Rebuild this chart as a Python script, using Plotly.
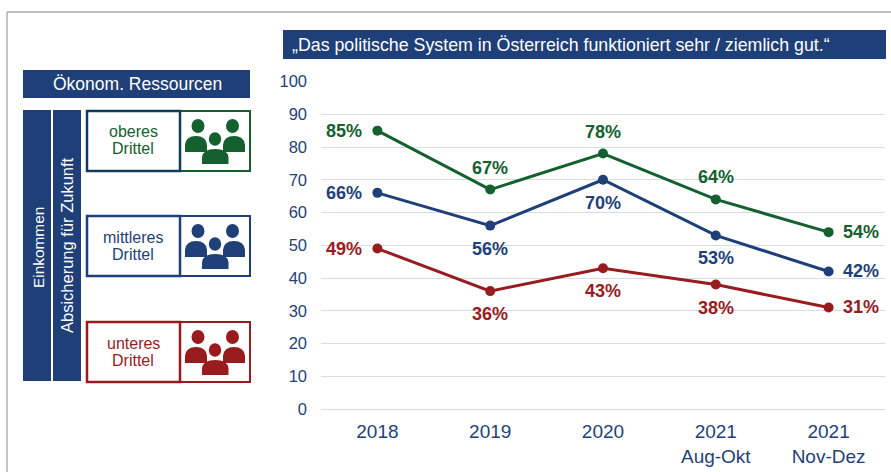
import plotly.graph_objects as go

W, H = 891, 472
FONT = "Liberation Sans"
NAVY = "#1f3f78"
GREEN = "#14602f"
RED = "#981b1e"
DARK = "#103c5f"

categories = ["2018", "2019", "2020", "2021<br>Aug-Okt", "2021<br>Nov-Dez"]
upper_values = [85, 67, 78, 64, 54]
middle_values = [66, 56, 70, 53, 42]
lower_values = [49, 36, 43, 38, 31]
upper_places = ["left", "top", "top", "top", "right"]
middle_places = ["left", "bottom", "bottom", "bottom", "right"]
lower_places = ["left", "bottom", "bottom", "bottom", "right"]
y_ticks = [0, 10, 20, 30, 40, 50, 60, 70, 80, 90, 100]
title_text = "„Das politische System in Österreich funktioniert sehr / ziemlich gut.“"
header_text = "Ökonom. Ressourcen"
income_text = "Einkommen"
security_text = "Absicherung für Zukunft"

px = lambda x: x / W
py = lambda y: 1 - y / H

fig = go.Figure()
shifts = {"left": (-33, 0), "right": (32, 0), "top": (0, 22), "bottom": (0, -23)}
annotations = []
for values, places, color in [
    (upper_values, upper_places, GREEN),
    (middle_values, middle_places, NAVY),
    (lower_values, lower_places, RED),
]:
    fig.add_trace(go.Scatter(
        x=categories, y=values, mode="lines+markers",
        line=dict(color=color, width=3),
        marker=dict(color=color, size=10),
        showlegend=False, cliponaxis=False, hoverinfo="skip",
    ))
    for i, (v, p) in enumerate(zip(values, places)):
        dx, dy = shifts[p]
        annotations.append(dict(
            x=i, y=v, xref="x", yref="y", text=f"{v}%", showarrow=False,
            xshift=dx, yshift=dy,
            font=dict(family=FONT, size=18, color=color, weight="bold"),
        ))

shapes = []

def rect(x0, y0, x1, y1, fill=None, line=None, width=0):
    shapes.append(dict(
        type="rect", xref="paper", yref="paper",
        x0=px(x0), y0=py(y0), x1=px(x1), y1=py(y1),
        fillcolor=fill if fill else "rgba(0,0,0,0)",
        line=dict(color=line if line else "rgba(0,0,0,0)", width=width),
        layer="below",
    ))

def label(x, y, text, size, color, angle=0):
    annotations.append(dict(
        x=px(x), y=py(y), xref="paper", yref="paper", text=text, showarrow=False,
        textangle=angle, font=dict(family=FONT, size=size, color=color),
        xanchor="center", yanchor="middle", align="center",
    ))

def head(cx, cy, r, color):
    shapes.append(dict(type="circle", xref="paper", yref="paper",
                       x0=px(cx - r), x1=px(cx + r), y0=py(cy - r * 1.08), y1=py(cy + r * 1.08),
                       fillcolor=color, line=dict(width=0)))

def body(x0, x1, top, bottom, color):
    m = (x0 + x1) / 2
    path = (f"M {px(x0)} {py(bottom)} L {px(x0)} {py(top + (bottom - top) * 0.55)} "
            f"Q {px(x0 + 1)} {py(top)} {px(m)} {py(top)} "
            f"Q {px(x1 - 1)} {py(top)} {px(x1)} {py(top + (bottom - top) * 0.55)} "
            f"L {px(x1)} {py(bottom)} Z")
    shapes.append(dict(type="path", xref="paper", yref="paper", path=path,
                       fillcolor=color, line=dict(width=0)))

def group(top, text, color, left_line):
    bottom = top + 60
    rect(180, top, 250, bottom, fill="white", line=color, width=2)
    rect(87, top, 180, bottom, fill="white", line=left_line, width=2.5)
    label(133, top + 21, text, 16, color)
    label(133, top + 38, "Drittel", 16, color)
    head(198, top + 15, 6.5, color)
    head(232.5, top + 15, 6.5, color)
    head(215, top + 28, 6.2, color)
    body(185, 207, top + 25, top + 41, color)
    body(223, 245, top + 25, top + 41, color)
    body(202, 228.5, top + 38, top + 53, color)

# outer frame
shapes.append(dict(type="line", xref="paper", yref="paper", x0=px(7), x1=px(7), y0=0, y1=py(12),
                   line=dict(color="#b0b0b0", width=1.5)))
shapes.append(dict(type="line", xref="paper", yref="paper", x0=px(7), x1=1, y0=py(12), y1=py(12),
                   line=dict(color="#a8a8a8", width=1.5)))

rect(283, 30, 886, 59, fill=NAVY)
label(561, 45, title_text, 17.8, "white")
rect(23, 70, 250, 98, fill=NAVY)
label(137, 84, header_text, 17.5, "white")
rect(23, 110, 51, 381, fill=NAVY)
rect(53, 110, 81, 381, fill=NAVY)
label(38, 248, income_text, 15.4, "white", -90)
label(67, 245, security_text, 16.5, "white", -90)
group(111, "oberes", GREEN, DARK)
group(216, "mittleres", NAVY, NAVY)
group(322, "unteres", RED, RED)

fig.update_layout(
    width=W, height=H, autosize=False,
    margin=dict(l=0, r=0, t=0, b=0),
    paper_bgcolor="white", plot_bgcolor="white",
    shapes=shapes, annotations=annotations, showlegend=False,
    xaxis=dict(
        domain=[px(321), px(885)], type="category", categoryorder="array",
        categoryarray=categories, range=[-0.5, 4.5], showgrid=False, zeroline=False,
        showline=True, linecolor="#d5dde9", linewidth=1, ticks="", ticklabelstandoff=5,
        tickfont=dict(family=FONT, size=19, color=NAVY), automargin=False,
    ),
    yaxis=dict(
        domain=[py(409), py(81.5)], range=[0, 100], tickvals=y_ticks,
        showgrid=True, gridcolor="#d5dde9", gridwidth=1, zeroline=False,
        ticks="", ticklabelstandoff=13,
        tickfont=dict(family=FONT, size=16.5, color=NAVY), automargin=False,
    ),
)
fig.write_html("out.html", config={"displayModeBar": False},
               post_script="document.body.style.margin='0';")
